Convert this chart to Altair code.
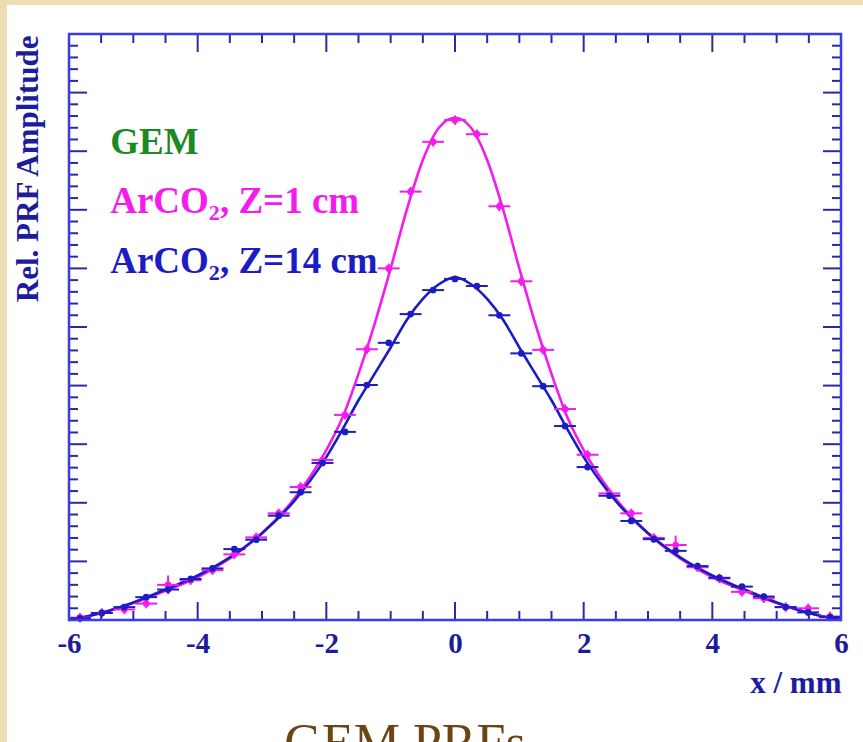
import altair as alt
import pandas as pd

# ---------------- data ----------------
x_pts = [-5.83, -5.49, -5.14, -4.80, -4.46, -4.11, -3.77, -3.43, -3.09, -2.74, -2.40, -2.06,
         -1.71, -1.37, -1.03, -0.69, -0.34, 0.00, 0.34, 0.69, 1.03, 1.37, 1.71, 2.06,
         2.40, 2.74, 3.09, 3.43, 3.77, 4.11, 4.46, 4.80, 5.14, 5.49, 5.83]
y_z1 = [0.004, 0.012, 0.018, 0.028, 0.060, 0.068, 0.085, 0.112, 0.141, 0.182, 0.227, 0.273,
        0.350, 0.462, 0.600, 0.731, 0.816, 0.853, 0.829, 0.706, 0.578, 0.461, 0.360, 0.282,
        0.216, 0.182, 0.140, 0.128, 0.090, 0.071, 0.048, 0.037, 0.022, 0.020, 0.006]
y_z14 = [0.003, 0.012, 0.022, 0.039, 0.052, 0.070, 0.088, 0.121, 0.137, 0.178, 0.218, 0.268,
         0.321, 0.401, 0.473, 0.522, 0.563, 0.582, 0.570, 0.520, 0.455, 0.399, 0.331, 0.261,
         0.212, 0.169, 0.138, 0.118, 0.092, 0.072, 0.057, 0.040, 0.022, 0.013, 0.005]
yerr_z1 = [0.008, 0.008, 0.008, 0.008, 0.016, 0.008, 0.008, 0.008, 0.008, 0.008, 0.008, 0.008,
           0.008, 0.008, 0.008, 0.008, 0.008, 0.008, 0.008, 0.008, 0.008, 0.008, 0.008, 0.008,
           0.008, 0.008, 0.008, 0.016, 0.008, 0.008, 0.008, 0.008, 0.008, 0.008, 0.008]
yerr_z14 = [0.004] * 35
x_halfwidth = 0.17

fit_x = [-6.0, -5.5, -5.0, -4.5, -4.0, -3.5, -3.0, -2.5, -2.25, -2.0, -1.75, -1.5, -1.25,
         -1.0, -0.75, -0.5, -0.25, 0.0, 0.25, 0.5, 0.75, 1.0, 1.25, 1.5, 1.75, 2.0, 2.25,
         2.5, 3.0, 3.5, 4.0, 4.5, 5.0, 5.5, 6.0]
fit_z1 = [0.000, 0.012, 0.029, 0.050, 0.073, 0.105, 0.148, 0.207, 0.245, 0.290, 0.345, 0.420,
          0.505, 0.600, 0.700, 0.785, 0.840, 0.857, 0.840, 0.785, 0.700, 0.600, 0.505, 0.420,
          0.345, 0.290, 0.245, 0.207, 0.148, 0.105, 0.073, 0.050, 0.029, 0.012, 0.000]
fit_z14 = [0.000, 0.012, 0.030, 0.052, 0.076, 0.107, 0.148, 0.203, 0.238, 0.278, 0.325, 0.375,
           0.420, 0.465, 0.512, 0.548, 0.573, 0.585, 0.573, 0.548, 0.512, 0.465, 0.420, 0.375,
           0.325, 0.278, 0.238, 0.203, 0.148, 0.107, 0.076, 0.052, 0.030, 0.012, 0.000]

series_names = ["ArCO2, Z=1 cm", "ArCO2, Z=14 cm"]
series_colors = ["#f41cec", "#1c1cc4"]

x_major = [-6, -4, -2, 0, 2, 4, 6]
x_minor = [-5.5, -5, -4.5, -3.5, -3, -2.5, -1.5, -1, -0.5, 0.5, 1, 1.5, 2.5, 3, 3.5, 4.5, 5, 5.5]
y_major = [0.1, 0.2, 0.3, 0.4, 0.5, 0.6, 0.7, 0.8, 0.9]
y_minor = [0.02, 0.04, 0.06, 0.08, 0.12, 0.14, 0.16, 0.18, 0.22, 0.24, 0.26, 0.28,
           0.32, 0.34, 0.36, 0.38, 0.42, 0.44, 0.46, 0.48, 0.52, 0.54, 0.56, 0.58,
           0.62, 0.64, 0.66, 0.68, 0.72, 0.74, 0.76, 0.78, 0.82, 0.84, 0.86, 0.88,
           0.92, 0.94, 0.96, 0.98]

legend_labels = ["GEM", "ArCO\u2082, Z=1 cm", "ArCO\u2082, Z=14 cm"]
legend_colors = ["#1a8a22", "#f41cec", "#1c1cc4"]
legend_y = [0.795, 0.695, 0.592]
legend_x = -5.36

# ---------------- style ----------------
W, H = 772, 586
SERIF = "Liberation Serif"
FRAME = "#3a3aee"
TICK = "#2a2aa0"
LBL = "#1c1c9c"

xs = alt.Scale(domain=[-6, 6], nice=False, zero=False)
ys = alt.Scale(domain=[0, 1], nice=False, zero=False)

pts = pd.DataFrame({
    "x": x_pts * 2,
    "y": y_z1 + y_z14,
    "yerr": yerr_z1 + yerr_z14,
    "series": [series_names[0]] * len(x_pts) + [series_names[1]] * len(x_pts),
})
fit = pd.DataFrame({
    "x": fit_x * 2,
    "y": fit_z1 + fit_z14,
    "series": [series_names[0]] * len(fit_x) + [series_names[1]] * len(fit_x),
})
color = alt.Color("series:N", scale=alt.Scale(domain=series_names, range=series_colors), legend=None)

one = pd.DataFrame({"k": [0]})

bg = alt.Chart(one).mark_rect(color="white").encode(
    x=alt.value(-62), x2=alt.value(794), y=alt.value(-29), y2=alt.value(708))

x_axis = alt.Axis(values=x_major, ticks=False, domain=False, grid=False, zindex=2,
                  labelExpr="'' + datum.value", labelFont=SERIF, labelFontWeight="bold",
                  labelFontSize=29, labelColor=LBL, labelPadding=9, labelFlush=False,
                  title="x / mm", titleFont=SERIF, titleFontWeight="bold", titleFontSize=31,
                  titleColor=LBL, titleAnchor="end", titleAlign="right", titleX=W, titleY=72,
                  titleBaseline="alphabetic")
y_axis = alt.Axis(ticks=False, labels=False, domain=False, grid=False, zindex=2,
                  title="Rel. PRF Amplitude", titleFont=SERIF, titleFontWeight="bold",
                  titleFontSize=31, titleColor=LBL, titleAngle=270, titleX=-32, titleY=1,
                  titleAlign="right", titleBaseline="alphabetic")

lines = alt.Chart(fit).mark_line(interpolate="monotone", strokeWidth=2.6).encode(
    x=alt.X("x:Q", scale=xs, axis=x_axis),
    y=alt.Y("y:Q", scale=ys, axis=y_axis),
    color=color, detail="series:N")

xerr_rules = alt.Chart(pts).transform_calculate(
    xlo=f"datum.x - {x_halfwidth}", xhi=f"datum.x + {x_halfwidth}"
).mark_rule(strokeWidth=2).encode(
    x=alt.X("xlo:Q", scale=xs), x2="xhi:Q", y=alt.Y("y:Q", scale=ys), color=color)

yerr_rules = alt.Chart(pts).transform_calculate(
    ylo="datum.y - datum.yerr", yhi="datum.y + datum.yerr"
).mark_rule(strokeWidth=2).encode(
    x=alt.X("x:Q", scale=xs), y=alt.Y("ylo:Q", scale=ys), y2="yhi:Q", color=color)

dots = alt.Chart(pts).mark_circle(size=45, opacity=1).encode(
    x=alt.X("x:Q", scale=xs), y=alt.Y("y:Q", scale=ys), color=color)


def xticks(vals, length, top):
    c = alt.Chart(pd.DataFrame({"v": vals})).mark_rule(color=TICK, strokeWidth=2)
    if top:
        return c.encode(x=alt.X("v:Q", scale=xs), y=alt.value(0), y2=alt.value(length))
    return c.encode(x=alt.X("v:Q", scale=xs), y=alt.value(H), y2=alt.value(H - length))


def yticks(vals, length, right):
    c = alt.Chart(pd.DataFrame({"v": vals})).mark_rule(color=TICK, strokeWidth=2)
    if right:
        return c.encode(y=alt.Y("v:Q", scale=ys), x=alt.value(W), x2=alt.value(W - length))
    return c.encode(y=alt.Y("v:Q", scale=ys), x=alt.value(0), x2=alt.value(length))


ticks = [xticks(x_major, 18, False), xticks(x_minor, 9, False),
         xticks(x_major, 18, True), xticks(x_minor, 9, True),
         yticks(y_major, 18, False), yticks(y_minor, 9, False),
         yticks(y_major, 18, True), yticks(y_minor, 9, True)]

frame = alt.Chart(one).mark_rect(fillOpacity=0, stroke=FRAME, strokeWidth=2.5).encode(
    x=alt.value(0), x2=alt.value(W), y=alt.value(0), y2=alt.value(H))

legend_layers = []
for lab, col, yy in zip(legend_labels, legend_colors, legend_y):
    legend_layers.append(
        alt.Chart(pd.DataFrame({"t": [lab], "x": [legend_x], "y": [yy]})).mark_text(
            align="left", baseline="alphabetic", font=SERIF, fontWeight="bold",
            fontSize=37, color=col).encode(
            x=alt.X("x:Q", scale=xs), y=alt.Y("y:Q", scale=ys), text="t:N"))

title = alt.Chart(one).mark_text(
    text="GEM PRFs", align="center", baseline="alphabetic", font=SERIF,
    fontSize=52, color="#6b4514").encode(x=alt.value(336), y=alt.value(726))

chart = alt.layer(bg, lines, xerr_rules, yerr_rules, dots, *ticks, frame, *legend_layers, title).properties(
    width=W, height=H,
    autosize=alt.AutoSizeParams(type="none"),
    padding={"left": 69, "top": 34, "right": 22, "bottom": 122},
    background="#eedcb2",
).configure_view(stroke=None)

chart.save("out.html", embed_options={"renderer": "svg", "actions": False})
